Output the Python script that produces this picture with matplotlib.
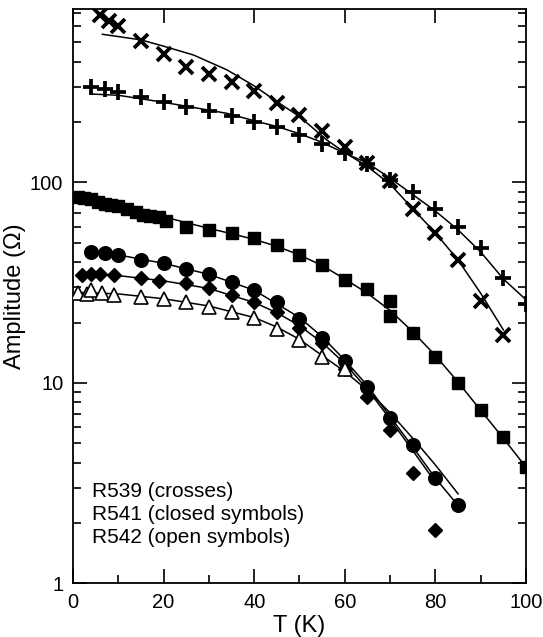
import matplotlib
matplotlib.use('Agg')
import matplotlib.pyplot as plt
from matplotlib.ticker import LogLocator, NullFormatter, FixedLocator

plt.rcParams['font.family'] = ['Liberation Sans', 'DejaVu Sans']

# ---------------- data ----------------
# R539 crosses (x)
cross_T = [6, 8, 10, 15, 20, 25, 30, 35, 40, 45, 50, 55, 60, 65, 70, 75, 80, 85, 90, 95]
cross_A = [685, 640, 605, 510, 436, 378, 348, 315, 287, 248, 217, 181, 151, 125, 102, 74, 56, 41, 25.5, 17.4]
cross_fit_T = [6.5, 15, 20, 26.6, 34, 40, 45, 50, 56, 60, 65, 70, 75, 80, 85, 90, 95]
cross_fit_A = [548, 514, 478, 432, 364, 303, 253, 213, 163, 141, 120, 98, 74, 56, 41, 28, 18.4]

# R539 plus (+)
plus_T = [4, 7, 10, 15, 20, 25, 30, 35, 40, 45, 50, 55, 60, 65, 70, 75, 80, 85, 90, 95, 100]
plus_A = [298, 292, 284, 268, 253, 237, 226, 215, 201, 189, 173, 156, 140, 124, 103, 90, 74, 60, 47, 33.3, 24.8]
plus_fit_T = [4, 10, 19, 25, 34, 40, 45, 50, 54.5, 60, 65, 70, 75, 80, 85, 90, 95, 100]
plus_fit_A = [276, 272, 253, 240, 221, 203, 190, 175, 160, 140, 125, 105, 87, 72, 58, 45, 33, 26]

# R541 squares
sq_T = [1, 2.5, 4, 5.5, 7, 8.5, 10, 12, 14, 15.5, 17, 19, 20.5, 25, 30, 35, 40, 45, 50, 55, 60,
        65, 70, 70, 75, 80, 85, 90, 95, 100]
sq_A = [85, 84, 83, 80, 78, 77, 76, 74, 71, 69, 68, 67, 64, 60.2, 58, 55.8, 52.7, 48.8, 43.5, 38.8, 32.6,
        29.3, 25.5, 21.6, 17.7, 13.5, 10, 7.3, 5.4, 3.8]
sq_fit_T = [1, 5, 10, 15, 20, 25, 30, 35, 40, 45, 50, 55, 60, 65, 70, 75, 80, 85, 90, 95, 100]
sq_fit_A = [84, 80, 76, 72, 67.5, 63, 59, 55.5, 52, 48, 43.5, 38.5, 33, 28, 23, 18, 13.7, 10.1, 7.3, 5.3, 3.8]

# R541 circles
circ_T = [4, 7, 10, 15, 20, 25, 30, 35, 40, 45, 50, 55, 60, 65, 70, 75, 80, 85]
circ_A = [45.2, 44.3, 43.5, 41.1, 39.5, 36.9, 34.8, 32, 29.1, 25.4, 20.8, 16.7, 12.8, 9.6, 6.7, 4.9, 3.35, 2.46]
circ_fit_T = [4, 10, 20, 30, 40, 50, 55, 60, 65, 70, 75, 80, 85]
circ_fit_A = [45, 43.5, 39.5, 34.8, 29, 21.2, 17, 13, 9.7, 6.8, 4.8, 3.35, 2.45]

# R541 diamonds
diam_T = [2, 4, 6, 9, 15, 19, 25, 30, 35, 40, 45, 50, 55, 60, 65, 70, 75, 80]
diam_A = [34.6, 35, 35, 34.6, 33.3, 32.4, 31.4, 29.9, 27.5, 25.4, 22.7, 18.7, 15.8, 11.8, 8.5, 5.8, 3.57, 1.84]
diam_fit_T = [2, 10, 20, 30, 40, 45, 50, 55, 60, 65, 70, 75, 80]
diam_fit_A = [35, 34.3, 32.3, 29.6, 25.2, 22.4, 19.3, 15.9, 12.5, 9.3, 6.6, 4.6, 3.2]

# R542 open triangles
tri_T = [1, 3, 4, 6.5, 9, 15, 20, 25, 30, 35, 40, 45, 50, 55, 60]
tri_A = [28, 27.8, 29.1, 28.2, 27.5, 26.9, 26.2, 25.2, 24, 22.7, 21, 18.6, 16.3, 13.5, 11.7]
tri_fit_T = [1, 10, 20, 30, 40, 45, 50, 55, 60, 65, 70, 75, 80, 85]
tri_fit_A = [28.3, 27.8, 26.3, 24.2, 21.2, 19.0, 16.5, 13.7, 11.4, 9.2, 7.1, 5.3, 3.9, 2.8]

x_ticks = [0, 20, 40, 60, 80, 100]
x_minor = [10, 30, 50, 70, 90]
y_ticks = [1, 10, 100]
y_ticklabels = ['1', '10', '100']
notes = ['R539 (crosses)', 'R541 (closed symbols)', 'R542 (open symbols)']

# ---------------- figure ----------------
fig = plt.figure(figsize=(5.43, 6.37), dpi=100)
ax = fig.add_axes([0.1344, 0.0840, 0.8343, 0.9014])
ax.set_yscale('log')
ax.set_xlim(0, 100)
ax.set_ylim(1, 730)

lw = 1.1
for T, A in [(cross_fit_T, cross_fit_A), (plus_fit_T, plus_fit_A), (sq_fit_T, sq_fit_A),
             (circ_fit_T, circ_fit_A), (diam_fit_T, diam_fit_A), (tri_fit_T, tri_fit_A)]:
    ax.plot(T, A, color='black', lw=lw, zorder=2)

ax.plot(cross_T, cross_A, ls='none', marker='x', ms=10.5, mew=2.7, color='black', zorder=3)
ax.plot(plus_T, plus_A, ls='none', marker='+', ms=11, mew=2.7, color='black', zorder=3)
ax.plot(sq_T, sq_A, ls='none', marker='s', ms=8.8, color='black', zorder=3)
ax.plot(circ_T, circ_A, ls='none', marker='o', ms=9.8, color='black', zorder=3)
ax.plot(diam_T, diam_A, ls='none', marker='D', ms=7.2, color='black', zorder=3)
ax.plot(tri_T, tri_A, ls='none', marker='^', ms=10, mfc='white', mec='black', mew=1.2, zorder=3)

ax.xaxis.set_major_locator(FixedLocator(x_ticks))
ax.xaxis.set_minor_locator(FixedLocator(x_minor))
ax.set_xticklabels([str(v) for v in x_ticks])
ax.yaxis.set_major_locator(FixedLocator(y_ticks))
ax.set_yticklabels(y_ticklabels)
ax.yaxis.set_minor_locator(LogLocator(base=10, subs=[2, 3, 4, 5, 6, 7, 8, 9]))
ax.yaxis.set_minor_formatter(NullFormatter())

ax.tick_params(which='both', direction='in', top=True, right=True, width=1.2, labelsize=14.5)
ax.tick_params(which='major', length=10, pad=7)
ax.tick_params(which='minor', length=5.5)
ax.tick_params(axis='x', which='minor', top=False)
for s in ax.spines.values():
    s.set_linewidth(1.3)

ax.set_xlabel('T (K)', fontsize=17, labelpad=2)
ax.set_ylabel('Amplitude (\u03a9)', fontsize=17, labelpad=3)

for i, (txt, yb) in enumerate(zip(notes, [0.1506, 0.1105, 0.0705])):
    ax.text(0.042, yb, txt, transform=ax.transAxes, fontsize=15, va='baseline', ha='left')

fig.savefig('out.png', dpi=100)
